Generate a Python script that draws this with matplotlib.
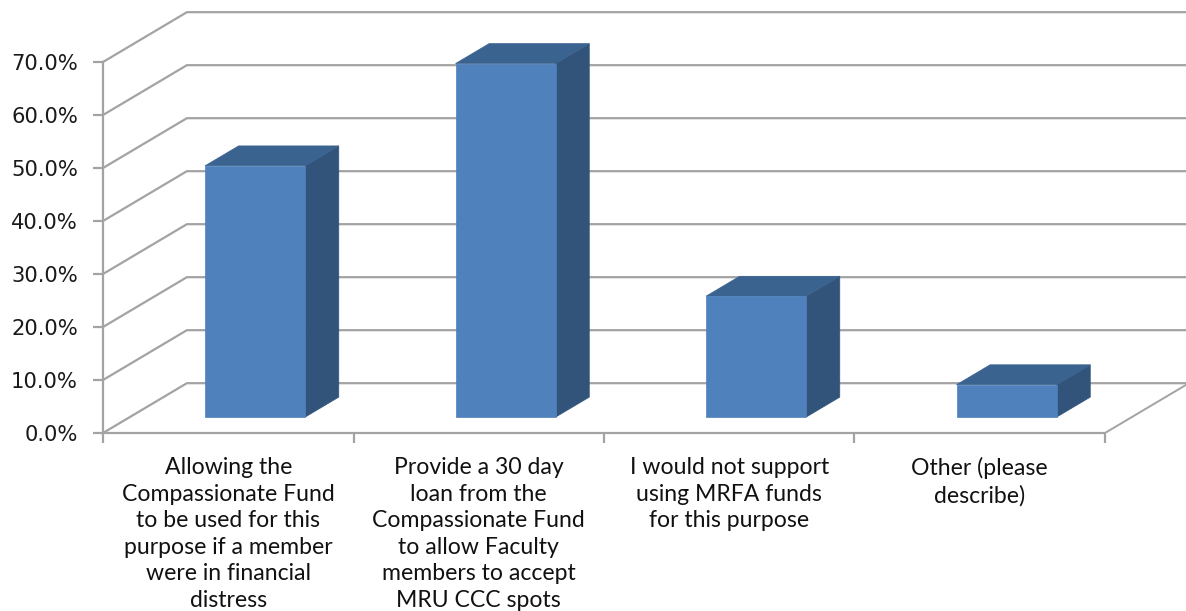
import matplotlib
matplotlib.use("Agg")
import matplotlib.pyplot as plt
from matplotlib.patches import Polygon, Rectangle

# survey answers and share of respondents (percent)
categories = [
    "Allowing the\nCompassionate Fund\nto be used for this\npurpose if a member\nwere in financial\ndistress",
    "Provide a 30 day\nloan from the\nCompassionate Fund\nto allow Faculty\nmembers to accept\nMRU CCC spots",
    "I would not support\nusing MRFA funds\nfor this purpose",
    "Other (please\ndescribe)",
]
values = [47.4, 66.7, 22.8, 6.1]
yticks = [0, 10, 20, 30, 40, 50, 60, 70]

# fake 3d: how far the back wall sits from the front plane (data units)
depth_dx = 0.335
depth_dy = 9.4
bar_w = 0.4          # gap width 150%
bar_d0, bar_d1 = 0.32, 0.72   # bar front/back as fraction of floor depth

front_col = "#4f81bd"
top_col = "#3b6390"
side_col = "#32547a"
grid_col = "#a3a3a3"

fig = plt.figure(figsize=(11.86, 6.11), dpi=100)
ax = fig.add_axes([103 / 1186, 178 / 611, 1083 / 1186, 428 / 611])
ax.set_xlim(0, 1083 / 250.5)
ax.set_ylim(0, 428 / 5.3)
ax.patch.set_alpha(0)

# walls: gridlines on the left wall and the back wall
xmax = ax.get_xlim()[1]
for v in yticks:
    ax.plot([0, depth_dx, xmax], [v, v + depth_dy, v + depth_dy],
            color=grid_col, lw=1.6, clip_on=False, zorder=1)
# right edge of the floor
n = len(categories)
ax.plot([n, n + depth_dx], [0, depth_dy], color=grid_col, lw=1.4, zorder=1)

# bars as boxes
dd = bar_d1 - bar_d0
for i, v in enumerate(values):
    x0 = i + (1 - bar_w) / 2 + bar_d0 * depth_dx
    y0 = bar_d0 * depth_dy
    x1 = x0 + bar_w
    ox, oy = dd * depth_dx, dd * depth_dy
    top = Polygon([(x0, y0 + v), (x1, y0 + v), (x1 + ox, y0 + v + oy),
                   (x0 + ox, y0 + v + oy)], closed=True,
                  facecolor=top_col, edgecolor=top_col, lw=0.5, zorder=3)
    side = Polygon([(x1, y0), (x1, y0 + v), (x1 + ox, y0 + v + oy),
                    (x1 + ox, y0 + oy)], closed=True,
                   facecolor=side_col, edgecolor=side_col, lw=0.5, zorder=3)
    front = Rectangle((x0, y0), bar_w, v, facecolor=front_col,
                      edgecolor=front_col, lw=0.5, zorder=4)
    ax.add_patch(side)
    ax.add_patch(top)
    ax.add_patch(front)

# axes
for s in ["top", "right"]:
    ax.spines[s].set_visible(False)
ax.spines["left"].set_bounds(0, 70)
ax.spines["bottom"].set_bounds(0, n)
for s in ["left", "bottom"]:
    ax.spines[s].set_color(grid_col)
    ax.spines[s].set_linewidth(1.6)
    ax.spines[s].set_zorder(2)

ax.set_yticks(yticks)
ax.set_yticklabels([f"{t:.1f}%" for t in yticks], fontsize=15.2,
                   family="DejaVu Sans", color="#1a1a1a")
ax.set_xticks(range(n + 1))
ax.set_xticklabels([])
ax.tick_params(axis="y", direction="out", length=7, width=1.6,
               color=grid_col, pad=11)
ax.tick_params(axis="x", direction="out", length=7, width=1.6,
               color=grid_col)

for i, lab in enumerate(categories):
    ax.text(i + 0.5, -4.6, lab, ha="center", va="top", fontsize=16.6,
            family="Lato", color="#111111", linespacing=1.32)

fig.savefig("out.png", dpi=100)
